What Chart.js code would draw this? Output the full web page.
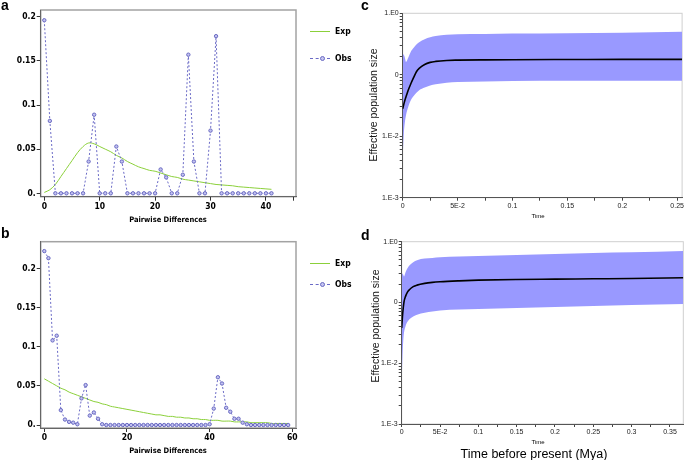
<!DOCTYPE html>
<html>
<head>
<meta charset="utf-8">
<script src="https://cdn.jsdelivr.net/npm/chart.js@4.4.1/dist/chart.umd.min.js"></script>
<style>
  body { margin: 0; background: #fff; }
  #wrap { position: relative; width: 685px; height: 460px; overflow: hidden; }
  canvas { position: absolute; left: 0; top: 0; }
  .t { position: absolute; white-space: nowrap; color: #000; }
  .pl { font: bold 14px "Liberation Sans", Arial, sans-serif; line-height: 14px; }
  .cen { transform: translate(-50%, -50%); }
  .rot { transform: translate(-50%, -50%) rotate(-90deg); }
  .mm { font: bold 7.5px "Liberation Sans Narrow", "DejaVu Sans Condensed", sans-serif; }
  .leg { font: bold 8.5px "DejaVu Sans Condensed", "DejaVu Sans", sans-serif; line-height: 10px; }
  .sw { position: absolute; width: 20px; height: 0; }
  .dot { position: absolute; width: 3px; height: 3px; border-radius: 50%; border: 1px solid #6a6ac2; background: #c6c6f2; }
  .sk { font: 10.5px "Liberation Sans", Arial, sans-serif; color: #111; }
</style>
</head>
<body>
<div id="wrap">
  <canvas id="chartA" width="685" height="460"></canvas>
  <canvas id="chartB" width="685" height="460"></canvas>
  <canvas id="chartC" width="685" height="460"></canvas>
  <canvas id="chartD" width="685" height="460"></canvas>

  <div class="t pl" style="left:1px;top:-2px">a</div>
  <div class="t pl" style="left:1px;top:226px">b</div>
  <div class="t pl" style="left:361px;top:-2px">c</div>
  <div class="t pl" style="left:361px;top:228px">d</div>

  <div class="t mm cen" style="left:168px;top:219px">Pairwise Differences</div>
  <div class="t mm cen" style="left:168px;top:450px">Pairwise Differences</div>

  <!-- legends a / b -->
  <div class="sw" style="left:310px;top:31px;border-top:1px solid #8bd03a"></div>
  <div class="t leg" style="left:335px;top:26px">Exp</div>
  <div class="sw" style="left:310px;top:58px;border-top:1px dashed #6a6ac6"></div>
  <div class="dot" style="left:320px;top:56px"></div>
  <div class="t leg" style="left:335px;top:53px">Obs</div>

  <div class="sw" style="left:310px;top:263px;border-top:1px solid #8bd03a"></div>
  <div class="t leg" style="left:335px;top:258px">Exp</div>
  <div class="sw" style="left:310px;top:284px;border-top:1px dashed #6a6ac6"></div>
  <div class="dot" style="left:320px;top:282px"></div>
  <div class="t leg" style="left:335px;top:279px">Obs</div>

  <div class="t sk rot" style="left:373px;top:105px">Effective population size</div>
  <div class="t sk rot" style="left:375px;top:326px">Effective population size</div>
  <div class="t cen" style="left:538px;top:216px;font:6px 'Liberation Sans',Arial,sans-serif">Time</div>
  <div class="t cen" style="left:538px;top:442px;font:6px 'Liberation Sans',Arial,sans-serif">Time</div>
  <div class="t cen" style="left:534px;top:454px;font:12.5px 'Liberation Sans',Arial,sans-serif">Time before present (Mya)</div>
</div>

<script>
// ---- mismatch distributions (a, b) ----
const diffsA = [0,1,2,3,4,5,6,7,8,9,10,11,12,13,14,15,16,17,18,19,20,21,22,23,24,25,26,27,28,29,30,31,32,33,34,35,36,37,38,39,40,41];
const obsA = [0.196,0.082,0,0,0,0,0,0,0.036,0.089,0,0,0,0.053,0.036,0,0,0,0,0,0,0.027,0.018,0,0,0.021,0.157,0.036,0,0,0.071,0.178,0,0,0,0,0,0,0,0,0,0];
const expA = [0.001,0.004,0.010,0.019,0.028,0.037,0.046,0.053,0.057,0.056,0.053,0.050,0.047,0.043,0.040,0.036,0.033,0.030,0.028,0.026,0.025,0.023,0.021,0.019,0.018,0.016,0.015,0.014,0.013,0.012,0.011,0.010,0.0095,0.009,0.0085,0.0075,0.007,0.0065,0.006,0.0055,0.005,0.0045];

const diffsB = [0,1,2,3,4,5,6,7,8,9,10,11,12,13,14,15,16,17,18,19,20,21,22,23,24,25,26,27,28,29,30,31,32,33,34,35,36,37,38,39,40,41,42,43,44,45,46,47,48,49,50,51,52,53,54,55,56,57,58,59];
const obsB = [0.222,0.213,0.108,0.114,0.019,0.007,0.004,0.003,0.001,0.034,0.051,0.012,0.016,0.008,0.001,
  0,0,0,0,0,0,0,0,0,0,0,0,0,0,0,0,0,0,0,0,0,0,0,0,0,
  0.001,0.021,0.061,0.053,0.022,0.017,0.008,0.008,0.003,0.001,
  0,0,0,0,0,0,0,0,0,0];
const expB = [0.059,0.056,0.053,0.050,0.047,0.045,0.042,0.040,0.038,0.036,0.034,0.032,0.030,0.029,0.027,0.026,0.024,0.023,0.022,0.021,
  0.020,0.019,0.018,0.017,0.016,0.015,0.014,0.013,0.013,0.012,0.011,0.011,0.010,0.010,0.009,0.009,0.008,0.008,0.007,0.007,
  0.006,0.006,0.006,0.005,0.005,0.005,0.004,0.004,0.004,0.004,0.003,0.003,0.003,0.003,0.003,0.002,0.002,0.002,0.002,0.002];

const mmYTicks = [0, 0.05, 0.1, 0.15, 0.2];
const mmYLabels = ['0.', '0.05', '0.1', '0.15', '0.2'];
const xTicksA = [0, 10, 20, 30, 40, 45];
const xLabelsA = ['0', '10', '20', '30', '40', ''];
const xTicksB = [0, 20, 40, 60];
const xLabelsB = ['0', '20', '40', '60'];

// ---- skyline plots (c, d) ----
const timesC = [0,0.001,0.002,0.003,0.005,0.0075,0.01,0.0125,0.015,0.02,0.025,0.03,0.04,0.05,0.075,0.1,0.15,0.2,0.2545];
const medianC = [0.028,0.033,0.0386,0.0438,0.056,0.072,0.0905,0.112,0.127,0.147,0.159,0.165,0.171,0.173,0.175,0.176,0.177,0.178,0.178];
const upperC = [0.219,0.209,0.19,0.162,0.19,0.24,0.275,0.31,0.339,0.38,0.407,0.427,0.447,0.457,0.462,0.468,0.473,0.484,0.50];
const lowerC = [0.0045,0.011,0.017,0.022,0.030,0.039,0.045,0.051,0.056,0.062,0.067,0.070,0.074,0.076,0.078,0.079,0.080,0.080,0.080];

const timesD = [0,0.001,0.002,0.003,0.005,0.0075,0.01,0.015,0.02,0.03,0.04,0.05,0.075,0.1,0.15,0.2,0.25,0.3,0.3674];
const medianD = [0.038,0.059,0.081,0.102,0.126,0.148,0.162,0.182,0.193,0.206,0.214,0.219,0.227,0.233,0.239,0.242,0.245,0.248,0.255];
const upperD = [0.303,0.296,0.285,0.268,0.315,0.366,0.405,0.459,0.495,0.527,0.541,0.555,0.569,0.583,0.605,0.63,0.653,0.669,0.703];
const lowerD = [0.0045,0.0124,0.023,0.0317,0.0408,0.048,0.053,0.059,0.063,0.068,0.0708,0.0736,0.0764,0.078,0.081,0.0844,0.0877,0.091,0.0945];

const logLabels = ['1.E-3', '1.E-2', '0', '1.E0'];   // one per decade, 1e-3 .. 1e0
const xTicksC = [0,0.025,0.05,0.075,0.1,0.125,0.15,0.175,0.2,0.225,0.25];
const xLabelsC = ['0','','5E-2','','0.1','','0.15','','0.2','','0.25'];
const xTicksD = [0,0.025,0.05,0.075,0.1,0.125,0.15,0.175,0.2,0.225,0.25,0.275,0.3,0.325,0.35];
const xLabelsD = ['0','','5E-2','','0.1','','0.15','','0.2','','0.25','','0.3','','0.35'];

// frame round the plot area, drawn before the axes so they sit on top
const frame = {
  id: 'frame',
  beforeDraw(chart, args, opts) {
    const a = chart.chartArea, ctx = chart.ctx;
    ctx.save();
    ctx.strokeStyle = opts.color;
    ctx.lineWidth = opts.width;
    ctx.strokeRect(a.left, a.top, a.right - a.left, a.bottom - a.top);
    ctx.restore();
  }
};

const pts = (xs, ys) => xs.map((x, i) => ({ x: x, y: ys[i] }));
const boldTick = { family: "'DejaVu Sans Condensed','DejaVu Sans',sans-serif", weight: 'bold', size: 8.5 };

function mismatch(id, xs, obs, exp, o) {
  new Chart(document.getElementById(id), {
    type: 'line',
    data: {
      datasets: [
        { label: 'Obs', data: pts(xs, obs), borderColor: '#6a6ac6', borderWidth: 1, borderDash: [2, 2],
          pointRadius: 1.7, pointBorderWidth: 1, pointBorderColor: '#6a6ac2', pointBackgroundColor: '#c2c2f0', tension: 0 },
        { label: 'Exp', data: pts(xs, exp), borderColor: '#8bd03a', borderWidth: 1, pointRadius: 0, tension: 0.35 }
      ]
    },
    options: {
      responsive: false, animation: false, events: [],
      layout: { padding: o.pad },
      plugins: { legend: { display: false }, tooltip: { enabled: false }, frame: { color: '#a3a3a3', width: 1.5 } },
      scales: {
        x: {
          type: 'linear', min: o.xMin, max: o.xMax,
          afterFit: s => { s.height = 30; },
          afterBuildTicks: s => { s.ticks = o.xTicks.map(v => ({ value: v })); },
          ticks: { autoSkip: false, maxRotation: 0, padding: 1, color: '#000', font: boldTick,
                   callback: (v, i) => o.xLabels[i] },
          grid: { drawOnChartArea: false, tickLength: 4, color: '#333' },
          border: { color: '#666', width: 1 }
        },
        y: {
          min: o.yMin, max: o.yMax,
          afterFit: s => { s.width = 40.7; },
          afterBuildTicks: s => { s.ticks = mmYTicks.map(v => ({ value: v })); },
          ticks: { autoSkip: false, padding: 1, color: '#000', font: boldTick,
                   callback: (v, i) => mmYLabels[i] },
          grid: { drawOnChartArea: false, tickLength: 4, color: '#333' },
          border: { color: '#666', width: 1 }
        }
      }
    },
    plugins: [frame]
  });
}

function skyline(id, times, upper, lower, median, o) {
  const decTicks = [];
  [0.001, 0.01, 0.1].forEach(d => { for (let k = 1; k < 10; k++) decTicks.push(d * k); });
  decTicks.push(1);
  new Chart(document.getElementById(id), {
    type: 'line',
    data: {
      datasets: [
        { data: pts(times, upper), order: 2, borderWidth: 0, pointRadius: 0, fill: false, cubicInterpolationMode: 'monotone' },
        { data: pts(times, lower), order: 1, borderWidth: 0, pointRadius: 0, fill: '-1', backgroundColor: '#9999ff', cubicInterpolationMode: 'monotone' },
        { data: pts(times, median), order: 0, borderColor: '#000', borderWidth: 1.6, pointRadius: 0, fill: false, cubicInterpolationMode: 'monotone' }
      ]
    },
    options: {
      responsive: false, animation: false, events: [],
      layout: { padding: o.pad },
      plugins: { legend: { display: false }, tooltip: { enabled: false }, frame: { color: '#cfcfcf', width: 1 } },
      scales: {
        x: {
          type: 'linear', min: 0, max: o.xMax,
          afterFit: s => { s.height = 30; },
          afterBuildTicks: s => { s.ticks = o.xTicks.map(v => ({ value: v })); },
          ticks: { autoSkip: false, maxRotation: 0, padding: 1, color: '#222',
                   font: { family: "'Liberation Sans',Arial,sans-serif", size: 7 },
                   callback: (v, i) => o.xLabels[i] },
          grid: { drawOnChartArea: false, tickLength: 3, color: '#444' },
          border: { color: '#555', width: 1 }
        },
        y: {
          type: 'logarithmic', min: 0.001, max: 1,
          afterFit: s => { s.width = o.yWidth; },
          afterBuildTicks: s => { s.ticks = decTicks.map(v => ({ value: v })); },
          ticks: { autoSkip: false, padding: 1, color: '#222',
                   font: { family: "'Liberation Sans',Arial,sans-serif", size: 7 },
                   callback: v => {
                     const e = Math.log10(v), r = Math.round(e);
                     return Math.abs(e - r) < 1e-9 ? logLabels[r + 3] : '';
                   } },
          grid: { drawOnChartArea: false, tickLength: 3, color: '#444' },
          border: { color: '#555', width: 1 }
        }
      }
    },
    plugins: [frame]
  });
}

mismatch('chartA', diffsA, obsA, expA, {
  pad: { left: 0, top: 10, right: 389, bottom: 233.3 },
  xMin: -0.65, xMax: 45.43, yMin: -0.00385, yMax: 0.2076, xTicks: xTicksA, xLabels: xLabelsA
});
mismatch('chartB', diffsB, obsB, expB, {
  pad: { left: 0, top: 241.7, right: 389, bottom: 2 },
  xMin: -0.87, xMax: 60.9, yMin: -0.0038, yMax: 0.234, xTicks: xTicksB, xLabels: xLabelsB
});
skyline('chartC', timesC, upperC, lowerC, medianC, {
  pad: { left: 360, top: 13.3, right: 1.7, bottom: 232.3 }, yWidth: 42.7,
  xMax: 0.2545, xTicks: xTicksC, xLabels: xLabelsC
});
skyline('chartD', timesD, upperD, lowerD, medianD, {
  pad: { left: 360, top: 241.7, right: 1.7, bottom: 6 }, yWidth: 41.7,
  xMax: 0.3674, xTicks: xTicksD, xLabels: xLabelsD
});
</script>
</body>
</html>
